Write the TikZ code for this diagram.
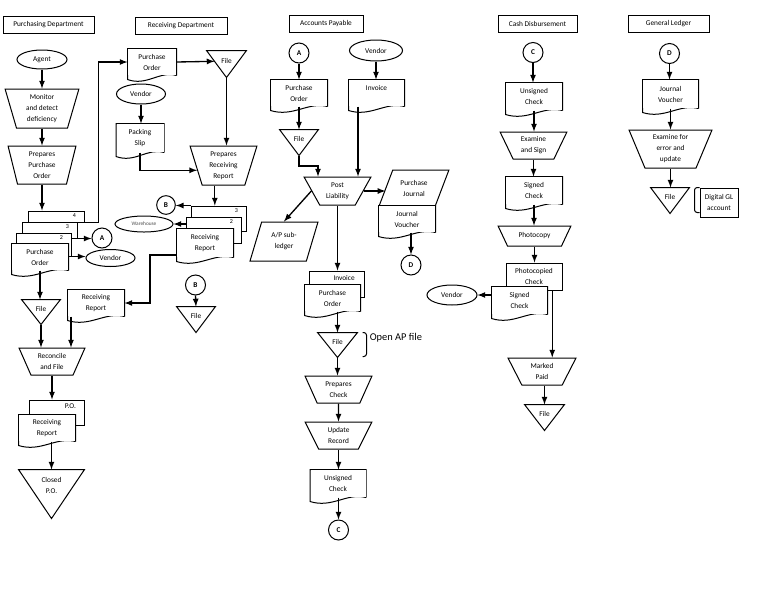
\documentclass[tikz,border=0pt]{standalone}
\usepackage{fontspec}
\setmainfont{Carlito}
\usetikzlibrary{shapes.geometric,calc}

\tikzset{every picture/.style={line width=0.75pt}}
\tikzset{
  lbl/.style={font=\fontsize{5.5}{8.25}\selectfont, align=center, inner sep=1pt},
  dept/.style={draw, lbl, minimum height=12.75pt},
  oval/.style={ellipse, draw, lbl, inner sep=0pt},
  conn/.style={circle, draw, minimum size=15pt, inner sep=0pt, font=\fontsize{5.5}{6}\selectfont\bfseries},
  proc/.style={trapezium, trapezium left angle=#1, trapezium right angle=#1, trapezium stretches=true, draw, fill=white, lbl},
  proc/.default=114,
  sheet/.style={draw, fill=white, lbl, minimum width=#1*0.75pt},
  sheet/.default=55,
  tag/.style={font=\fontsize{4.5}{5}\selectfont, anchor=north east, inner xsep=6pt, inner ysep=2pt},
  docu/.style={lbl, fill=white, minimum width=#1*0.75pt,
    append after command={\pgfextra{\draw (\tikzlastnode.south east) -- (\tikzlastnode.north east) -- (\tikzlastnode.north west) -- (\tikzlastnode.south west) -- ++(0,4) .. controls +({#1*0.4},7) and +({-#1*0.35},-5) .. (\tikzlastnode.south east);}}},
  docu/.default=56,
  filetri/.style={lbl, minimum width=#1*0.75pt, text depth=5pt,
    append after command={\pgfextra{\draw (\tikzlastnode.north west) -- (\tikzlastnode.north east) -- (\tikzlastnode.south) -- cycle;}}},
  filetri/.default=38,
  flow/.style={-latex, line width=1pt}
}

\begin{document}
\begin{tikzpicture}[x=0.75pt,y=0.75pt,yscale=-1,xscale=1]
\useasboundingbox (0,0) rectangle (768,594);

% Department headings
\node[dept, minimum width=68.25pt] (hPur) at (48.5,24.5) {Purchasing Department};
\node[dept, minimum width=69pt] (hRec) at (181,25.5) {Receiving Department};
\node[dept, minimum width=55.5pt] (hAP) at (326,23.5) {Accounts Payable};
\node[dept, minimum width=59.25pt] (hCash) at (537.5,23.5) {Cash Disbursement};
\node[dept, minimum width=60.75pt] (hGL) at (668.5,23.5) {General Ledger};

% Purchasing Department
\node[oval, minimum width=37.5pt, minimum height=14.25pt] (agent) at (42,59.5) {Agent};
\node[proc=104, minimum width=55.5pt, minimum height=29.25pt] (monitor) at (42,108.5) {Monitor\\and detect\\deficiency};
\node[proc=101, minimum width=51pt, minimum height=28.5pt] (prepPO) at (42,165) {Prepares\\Purchase\\Order};
\node[sheet=56, minimum height=8.25pt] (po4) at (56,216.5) {};
\node[sheet, minimum height=12pt] (po3) at (49.5,230) {};
\node[sheet, minimum height=17.25pt] (po2) at (43.5,244.5) {};
\node[docu, minimum height=19.5pt] (poP) at (40,257) {Purchase\\Order};
\node[tag] (n4) at (po4.north east) {4};
\node[tag] (n3) at (po3.north east) {3};
\node[tag] (n2) at (po2.north east) {2};
\node[conn] (Apur) at (102,238) {A};
\node[oval, minimum width=36.75pt, minimum height=12.75pt] (vendorP) at (110.5,258) {Vendor};
\node[filetri, minimum height=18pt] (fileP) at (41,312) {File};
\node[docu, minimum height=19.5pt] (rrP) at (96,303) {Receiving\\Report};
\node[proc=115, minimum width=49.5pt, minimum height=20.25pt] (reconcile) at (52,361.5) {Reconcile\\and File};
\node[sheet, minimum height=18.75pt] (poBack) at (56.5,412.5) {};
\node[tag, font=\fontsize{5.5}{6}\selectfont, inner ysep=3pt] (poLbl) at (poBack.north east) {P.O.};
\node[docu, minimum height=19.5pt] (rrF) at (47,428) {Receiving\\Report};
\node[filetri=65, minimum height=36pt, text depth=13.5pt] (closedPO) at (51.5,494) {Closed\\P.O.};

% Receiving Department
\node[docu=48, minimum height=19.5pt] (poR) at (152,62) {Purchase\\Order};
\node[filetri=39, minimum height=19.5pt] (fileR1) at (226.5,64) {File};
\node[oval, minimum width=36.75pt, minimum height=15pt] (vendorR) at (141,94) {Vendor};
\node[docu=47, minimum height=21pt] (slip) at (140,138) {Packing\\Slip};
\node[proc=106, minimum width=50.25pt, minimum height=29.25pt] (prepRR) at (223.5,165.5) {Prepares\\Receiving\\Report};
\node[sheet, minimum height=18.75pt] (rr3) at (218.5,218.5) {};
\node[sheet, minimum height=19.5pt] (rr2) at (213.5,230) {};
\node[docu, minimum height=21pt] (rrR) at (205,243) {Receiving\\Report};
\node[tag] (r3) at (rr3.north east) {3};
\node[tag] (r2) at (rr2.north east) {2};
\node[conn, minimum size=14pt] (Brec) at (166,205) {B};
\node[oval, minimum width=43.5pt, minimum height=12pt, font=\fontsize{4}{5}\selectfont, text=black!70] (warehouse) at (144,224) {Warehouse};
\node[conn] (Bfile) at (195.5,285) {B};
\node[filetri, minimum height=18.75pt] (fileR2) at (196,319.5) {File};

% Accounts Payable
\node[conn] (Aap) at (299,53) {A};
\node[docu, minimum height=19.5pt] (poAP) at (299,93) {Purchase\\Order};
\node[filetri, minimum height=18.75pt] (fileAP1) at (299,142.5) {File};
\node[oval, minimum width=39.75pt, minimum height=15.75pt] (vendorAP) at (376,50.5) {Vendor};
\node[docu=55, minimum height=19.5pt, text depth=7.5pt] (invAP) at (376.5,93) {Invoice};
\node[proc=120, minimum width=50.25pt, minimum height=21pt] (post) at (337.5,191) {Post\\Liability};
\node[trapezium, trapezium left angle=63, trapezium right angle=117, trapezium stretches=true, draw, fill=white, lbl, minimum width=52.5pt, minimum height=27pt] (pj) at (414,188) {Purchase\\Journal};
\node[docu, minimum height=19.5pt] (jvAP) at (407,219) {Journal\\Voucher};
\node[conn] (Dap) at (411,265) {D};
\node[trapezium, trapezium left angle=70, trapezium right angle=110, trapezium stretches=true, draw, fill=white, lbl, minimum width=51pt, minimum height=29.25pt] (apsub) at (284,241.5) {A/P sub-\\ledger};
\node[sheet, minimum height=19.5pt] (invBack) at (336.5,284) {};
\node[tag, font=\fontsize{5.5}{6}\selectfont, inner xsep=7pt, inner ysep=3pt] (invLbl) at (invBack.north east) {Invoice};
\node[docu=55, minimum height=19.5pt] (poAP2) at (332.5,298) {Purchase\\Order};
\node[filetri=39, minimum height=18pt] (fileAP2) at (337.5,345) {File};
\node[font=\fontsize{7.8}{9}\selectfont, inner sep=1pt, anchor=west] (openAP) at (368,338) {Open AP file};
\node[proc, minimum width=50.25pt, minimum height=20.25pt] (prepCheck) at (338.5,389.5) {Prepares\\Check};
\node[proc, minimum width=50.25pt, minimum height=20.25pt] (update) at (338.5,435.5) {Update\\Record};
\node[docu=55, minimum height=20.25pt] (unsAP) at (338,483.5) {Unsigned\\Check};
\node[conn] (Cap) at (338.5,530) {C};

% Cash Disbursement
\node[conn] (Ccash) at (533,52.5) {C};
\node[docu, minimum height=20.25pt] (unsC) at (534,96.5) {Unsigned\\Check};
\node[proc, minimum width=50.25pt, minimum height=20.25pt] (examine) at (533.5,145.5) {Examine\\and Sign};
\node[docu, minimum height=20.25pt] (signedC) at (534,190.5) {Signed\\Check};
\node[proc=124, minimum width=54.75pt, minimum height=15pt] (photocopy) at (534.5,236) {Photocopy};
\node[sheet=56, minimum height=20.25pt] (photoBack) at (534,276.5) {Photocopied\\Check};
\node[docu=55, minimum height=20.25pt] (signedC2) at (519.5,300.5) {Signed\\Check};
\node[oval, minimum width=37.5pt, minimum height=15pt] (vendorC) at (452,295) {Vendor};
\node[proc=115, minimum width=51pt, minimum height=20.25pt] (markedPaid) at (542,371.5) {Marked\\Paid};
\node[filetri=39, minimum height=18.75pt] (fileC) at (544.5,417.5) {File};

% General Ledger
\node[conn] (Dgl) at (669.5,53.5) {D};
\node[docu=55, minimum height=21pt] (jvGL) at (670.5,94) {Journal\\Voucher};
\node[proc=111, minimum width=62.25pt, minimum height=28.5pt] (examineGL) at (670.5,149) {Examine for\\error and\\update};
\node[filetri, minimum height=18.75pt] (fileGL) at (670,200.5) {File};
\node[draw, lbl, minimum width=28.5pt, minimum height=21.75pt] (glBox) at (719,202.5) {Digital GL\\account};

% bend points
\coordinate (rrOut) at (150,255);
\coordinate (rrDown) at (71,330);
\coordinate (apBend) at (318,166);
\coordinate (rrIn) at ($(prepRR.bottom left corner)!0.3!(prepRR.bottom right corner)$);
\coordinate (invOut) at ($(invAP.south west)!0.17!(invAP.south east)$);
\coordinate (pcOut) at ($(photoBack.south west)!0.82!(photoBack.south east)$);

% Purchasing flows
\draw[flow] (agent.south) -- (agent.south |- monitor.north);
\draw[flow] (monitor.south) -- (monitor.south |- prepPO.north);
\draw[flow] (prepPO.south) -- (prepPO.south |- po4.north);
\draw[flow] (po4.south east) -- ++(14,0) |- (poR.west);
\draw[flow] (po3.south east) -- (po3.south east -| Apur.west);
\draw[flow] (po2.south east) -- (po2.south east -| vendorP.west);
\draw[flow] (poP.south) -- (poP.south |- fileP.north);
\draw[flow] (fileP.south) -- (fileP.south |- reconcile.north);
\draw[flow] (rrR.west |- rrOut) -- (rrOut) |- (rrP.east);
\draw[flow] (rrDown |- rrP.south) -- (rrDown |- reconcile.north);
\draw[flow] (reconcile.south) -- (reconcile.south |- poBack.north);
\draw[flow] (closedPO.north |- rrF.south) -- (closedPO.north);

% Receiving flows
\draw[flow] (poR.east) -- ($(fileR1.north west)!0.4!(fileR1.south)$);
\draw[flow] (fileR1.south) -- (fileR1.south |- prepRR.north);
\draw[flow] (vendorR.south) -- (vendorR.south |- slip.north);
\draw[flow] (slip.south) |- ($(prepRR.top left corner)!0.62!(prepRR.bottom left corner)$);
\draw[flow] (rrIn) -- (rrIn |- rr3.north);
\draw[flow] (rr3.north west) -- (rr3.north west -| Brec.east);
\draw[flow] (rr2.west |- warehouse) -- (warehouse.east);
\draw[flow] (Bfile.south) -- (fileR2.north);

% Accounts Payable flows
\draw[flow] (Aap.south) -- (Aap.south |- poAP.north);
\draw[flow] (poAP.south) -- (poAP.south |- fileAP1.north);
\draw[flow] (fileAP1.south) |- (apBend) -- (apBend |- post.north);
\draw[flow] (vendorAP.south) -- (vendorAP.south |- invAP.north);
\draw[flow] (invOut) -- (invOut |- post.north);
\draw[flow] (post.east) -- (post.east -| pj.west);
\draw[flow] (post.west) -- (apsub.north);
\draw[flow] (post.south) -- (post.south |- invBack.north);
\draw[flow] (Dap.north |- jvAP.south) -- (Dap.north);
\draw[flow] (fileAP2.north |- poAP2.south) -- (fileAP2.north);
\draw[flow] (fileAP2.south) -- (fileAP2.south |- prepCheck.north);
\draw[flow] (prepCheck.south) -- (update.north);
\draw[flow] (update.south) -- (update.south |- unsAP.north);
\draw[flow] (Cap.north |- unsAP.south) -- (Cap.north);
\draw[rounded corners=2pt] (fileAP2.north east) ++(5,0) -- ++(4,0) -- ++(0,24) -- ++(-4,0);

% Cash Disbursement flows
\draw[flow] (Ccash.south) -- (Ccash.south |- unsC.north);
\draw[flow] (unsC.south) -- (unsC.south |- examine.north);
\draw[flow] (examine.south) -- (examine.south |- signedC.north);
\draw[flow] (signedC.south) -- (signedC.south |- photocopy.north);
\draw[flow] (photocopy.south) -- (photocopy.south |- photoBack.north);
\draw[flow] (signedC2.west |- vendorC) -- (vendorC.east);
\draw[flow] (pcOut) -- (pcOut |- markedPaid.north);
\draw[flow] (fileC.north |- markedPaid.south) -- (fileC.north);

% General Ledger flows
\draw[flow] (Dgl.south) -- (Dgl.south |- jvGL.north);
\draw[flow] (jvGL.south) -- (jvGL.south |- examineGL.north);
\draw[flow] (examineGL.south) -- (examineGL.south |- fileGL.north);
\draw[rounded corners=2pt] (glBox.north west) -- ++(-5,0) -- ++(0,25) -- ++(5,0);
\end{tikzpicture}
\end{document}
